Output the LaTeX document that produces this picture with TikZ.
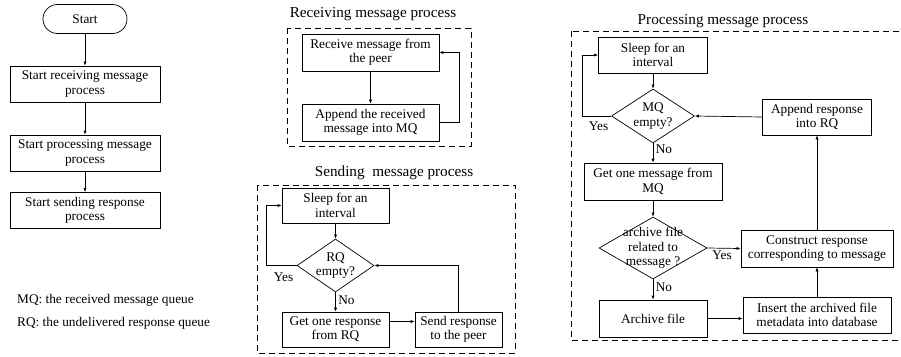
\documentclass[tikz,border=0pt]{standalone}
\usepackage{fontspec}
\setmainfont{Liberation Serif}
\usetikzlibrary{shapes.geometric,shapes.misc,arrows.meta}
\newcommand\mainsz{\fontsize{13.3}{14.3}\selectfont}
\newcommand\ttlsz{\fontsize{15.2}{16}\selectfont}
\tikzset{
  box/.style={draw, line width=0.7pt, align=center, inner sep=0pt, font=\mainsz},
  term/.style={draw, rounded rectangle, line width=0.7pt, inner sep=0pt, font=\mainsz},
  dia/.style={draw, diamond, line width=0.7pt, inner sep=0pt},
  dtext/.style={align=center, font=\mainsz, inner sep=0pt},
  arr/.style={-{Latex[length=4pt,width=3.2pt]}, line width=0.7pt},
  frame/.style={line width=0.7pt, dash pattern=on 6pt off 4pt},
  ttl/.style={font=\ttlsz, inner sep=0pt},
  lbl/.style={font=\mainsz, inner sep=0pt},
}
\begin{document}
\begin{tikzpicture}[x=1pt,y=-1pt]
\useasboundingbox (0,0) rectangle (901,356);
% ---------- left column
\node[term, minimum width=84pt, minimum height=29pt] (start) at (85,19) {Start};
\node[box, minimum width=150pt, minimum height=36pt] (b1) at (85,84) {Start receiving message\\process};
\node[box, minimum width=150pt, minimum height=36pt] (b2) at (85,153) {Start processing message\\process};
\node[box, minimum width=150pt, minimum height=36pt] (b3) at (85,210.5) {Start sending response\\process};
\draw[arr] (start.south) -- (b1.north);
\draw[arr] (b1.south) -- (b2.north);
\draw[arr] (b2.south) -- (b3.north);
\node[lbl, anchor=west] (mq) at (17,300) {MQ: the received message queue};
\node[lbl, anchor=west] (rq) at (17,323) {RQ: the undelivered response queue};
% ---------- receiving
\node[ttl] (rt) at (373,14) {Receiving message process};
\draw[frame] (287,28) rectangle (471,146);
\node[box, minimum width=137pt, minimum height=37pt] (r1) at (370.5,52.5) {Receive message from\\the peer};
\node[box, minimum width=137pt, minimum height=37pt] (r2) at (370.5,122.5) {Append the received\\message into MQ};
\draw[arr] (r1.south) -- (r2.north);
\draw[arr] (r2.east) -- ++(20,0) |- (r1.east);
% ---------- sending
\node[ttl] (st) at (394,173) {Sending\ \ message process};
\draw[frame] (257,185) rectangle (515,353);
\node[box, minimum width=107pt, minimum height=35pt] (s1) at (335.5,205.5) {Sleep for an\\interval};
\node[dia, minimum width=77pt, minimum height=53pt] (sd) at (335.5,265.5) {};
\node[dtext] (sdt) at (sd) {RQ\\empty?};
\node[box, minimum width=107pt, minimum height=35pt] (s2) at (335.5,329.5) {Get one response\\from RQ};
\node[box, minimum width=87pt, minimum height=35pt] (s3) at (458.5,329.5) {Send response\\to the peer};
\draw[arr] (s1.south) -- (sd.north);
\draw[arr] (sd.south) -- (s2.north);
\draw[arr] (sd.west) -- ++(-30,0) |- (s1.west);
\draw[arr] ([yshift=8pt]s2.east) -- ([yshift=8pt]s3.west);
\draw[arr] (s3.north) |- (sd.east);
\node[lbl] (sy) at (283.5,277) {Yes};
\node[lbl] (sn) at (346.5,300) {No};
% ---------- processing
\node[ttl] (pt) at (723,21) {Processing message process};
\draw[frame] (571,31) rectangle (906,340);
\node[box, minimum width=109pt, minimum height=36pt] (p1) at (653,55) {Sleep for an\\interval};
\node[dia, minimum width=83pt, minimum height=54pt] (pd1) at (653,116) {};
\node[dtext] (pd1t) at (pd1) {MQ\\empty?};
\node[box, minimum width=138pt, minimum height=37pt] (p2) at (653,181.5) {Get one message from\\MQ};
\node[dia, minimum width=108pt, minimum height=62pt] (pd2) at (653,248) {};
\node[dtext] (pd2t) at (pd2) {archive file\\related to\\message ?};
\node[box, minimum width=108pt, minimum height=37pt] (p3) at (653,318.5) {Archive file};
\node[box, minimum width=148pt, minimum height=36pt] (p4) at (817,315) {Insert the archived file\\metadata into database};
\node[box, minimum width=152pt, minimum height=37pt] (p5) at (817,248.5) {Construct response\\corresponding to message};
\node[box, minimum width=109pt, minimum height=36pt] (p6) at (817,117) {Append response\\into RQ};
\draw[arr] (p1.south) -- (pd1.north);
\draw[arr] (pd1.south) -- (p2.north);
\draw[arr] (pd1.west) -- ++(-28.5,0) |- (p1.west);
\draw[arr] (p2.south) -- (pd2.north);
\draw[arr] (pd2.south) -- (p3.north);
\draw[arr] (pd2.east) -- (p5.west);
\draw[arr] (p3.east) -- (p3.east -| p4.west);
\draw[arr] (p4.north) -- (p5.south);
\draw[arr] (p5.north) -- (p6.south);
\draw[arr] (p6.west) -- (pd1.east);
\node[lbl] (py1) at (598.5,126) {Yes};
\node[lbl] (pn1) at (664,149) {No};
\node[lbl] (py2) at (722,255) {Yes};
\node[lbl] (pn2) at (664,287) {No};
\end{tikzpicture}
\end{document}
